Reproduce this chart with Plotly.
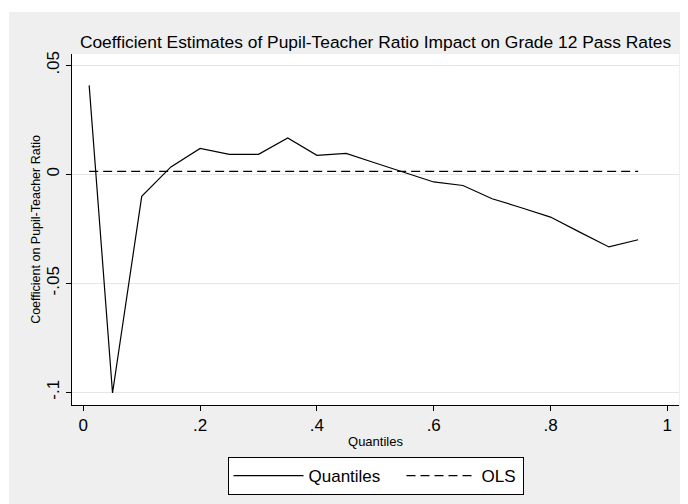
import plotly.graph_objects as go

quantiles = [0.01, 0.05, 0.10, 0.15, 0.20, 0.25, 0.30, 0.35, 0.40, 0.45,
             0.50, 0.55, 0.60, 0.65, 0.70, 0.75, 0.80, 0.85, 0.90, 0.95]
qr_coef = [0.0408, -0.1003, -0.0101, 0.0034, 0.0119, 0.0092, 0.0092, 0.0167, 0.0087, 0.0096,
           0.0052, 0.0008, -0.0035, -0.0051, -0.0112, -0.0153, -0.0196, -0.0265, -0.0333, -0.0300]
ols_coef = [0.0014] * len(quantiles)

x_ticks = [0, 0.2, 0.4, 0.6, 0.8, 1.0]
x_ticklabels = ["0", ".2", ".4", ".6", ".8", "1"]
y_ticks = [-0.1, -0.05, 0, 0.05]
y_ticklabels = ["-.1", "-.05", "0", ".05"]

# page body has an 8px margin, so the figure sits at (8, 8) in the window
W, H = 680, 496
L, R, T, B = 64, 9, 46, 99
PW, PH = W - L - R, H - T - B

FONT = "Liberation Sans, Arial, sans-serif"
GRAY = "#efefef"

fig = go.Figure()
fig.add_trace(go.Scatter(x=quantiles, y=qr_coef, mode="lines", name="Quantiles",
                         legendwidth=88,
                         line=dict(color="black", width=1.2)))
fig.add_trace(go.Scatter(x=quantiles, y=ols_coef, mode="lines", name="OLS",
                         legendwidth=36,
                         line=dict(color="black", width=1.2, dash="9px,5px")))

# white strips outside the gray graph region
shapes = [
    dict(type="rect", xref="paper", yref="paper",
         x0=-L / PW, x1=(1 - L) / PW, y0=-B / PH, y1=1 + T / PH,
         fillcolor="white", line=dict(width=0), layer="below"),
    dict(type="rect", xref="paper", yref="paper",
         x0=-L / PW, x1=1 + R / PW, y0=1 + (T - 4) / PH, y1=1 + T / PH,
         fillcolor="white", line=dict(width=0), layer="below"),
]

fig.update_layout(
    width=W, height=H,
    margin=dict(l=L, r=R, t=T, b=B, autoexpand=False),
    paper_bgcolor=GRAY, plot_bgcolor="white",
    font=dict(family=FONT, color="black"),
    shapes=shapes,
    title=dict(text="Coefficient Estimates of Pupil-Teacher Ratio Impact on Grade 12 Pass Rates",
               x=0.5, xref="paper", xanchor="center",
               y=1 - 34 / H, yref="container", yanchor="middle",
               font=dict(size=17.4, family=FONT, color="black")),
    xaxis=dict(range=[-0.0194, 1.02], tickvals=x_ticks, ticktext=x_ticklabels,
               automargin=False,
               showgrid=False, zeroline=False, showline=True, linecolor="black", linewidth=1,
               ticks="outside", ticklen=5, tickcolor="black", tickwidth=1,
               tickfont=dict(size=17, family=FONT),
               title=dict(text="Quantiles", font=dict(size=13, family=FONT), standoff=2)),
    yaxis=dict(range=[-0.1058, 0.0552], tickvals=y_ticks, ticktext=y_ticklabels,
               tickangle=-90, automargin=False,
               showgrid=True, gridcolor="#e6e6e6", gridwidth=1,
               zeroline=False, showline=True, linecolor="black", linewidth=1,
               ticks="outside", ticklen=5, tickcolor="black", tickwidth=1,
               tickfont=dict(size=17, family=FONT),
               title=dict(text="Coefficient on Pupil-Teacher Ratio", font=dict(size=12.5, family=FONT),
                          standoff=0)),
    legend=dict(orientation="h", x=0.5, xref="paper", xanchor="center",
                y=1 - 449 / H, yref="container", yanchor="top",
                bgcolor="white", bordercolor="black", borderwidth=1,
                font=dict(size=17, family=FONT), itemwidth=70, itemclick=False),
    showlegend=True,
)

fig.write_html("out.html", config={"displayModeBar": False, "staticPlot": True})
